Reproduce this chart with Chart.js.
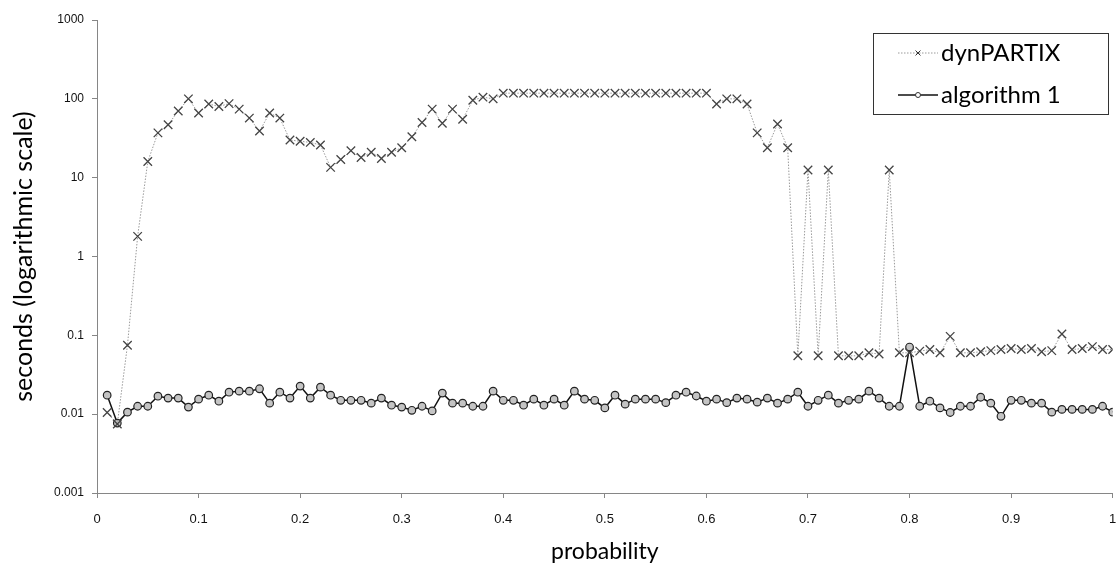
<!DOCTYPE html>
<html>
<head>
<meta charset="utf-8">
<script src="https://cdn.jsdelivr.net/npm/chart.js@4/dist/chart.umd.min.js"></script>
<style>
  html, body { margin: 0; padding: 0; background: #fff; }
  #wrap { width: 1120px; height: 565px; }
</style>
</head>
<body>
<div id="wrap"><canvas id="runtimeChart" width="1120" height="565"></canvas></div>
<script>
// probabilities on the x axis
var probability = [
  0.01,0.02,0.03,0.04,0.05,0.06,0.07,0.08,0.09,0.10,
  0.11,0.12,0.13,0.14,0.15,0.16,0.17,0.18,0.19,0.20,
  0.21,0.22,0.23,0.24,0.25,0.26,0.27,0.28,0.29,0.30,
  0.31,0.32,0.33,0.34,0.35,0.36,0.37,0.38,0.39,0.40,
  0.41,0.42,0.43,0.44,0.45,0.46,0.47,0.48,0.49,0.50,
  0.51,0.52,0.53,0.54,0.55,0.56,0.57,0.58,0.59,0.60,
  0.61,0.62,0.63,0.64,0.65,0.66,0.67,0.68,0.69,0.70,
  0.71,0.72,0.73,0.74,0.75,0.76,0.77,0.78,0.79,0.80,
  0.81,0.82,0.83,0.84,0.85,0.86,0.87,0.88,0.89,0.90,
  0.91,0.92,0.93,0.94,0.95,0.96,0.97,0.98,0.99,1.00
];

// seconds
var dynpartix = [
  0.0105,0.0075,0.075,1.8,16,37,47,70,100,66,
  86,80,87,74,57,39,66,57,30,29,
  28,26,13.5,17,22,18,21,17.5,21,24,
  33,50,74,49,74,55,96,105,100,118,
  118,118,118,118,118,118,118,118,118,118,
  118,118,118,118,118,118,118,118,118,118,
  86,100,100,86,37,24,48,24,0.055,12.5,
  0.055,12.5,0.055,0.055,0.055,0.06,0.058,12.5,0.06,0.06,
  0.063,0.066,0.06,0.097,0.06,0.06,0.062,0.064,0.066,0.068,
  0.066,0.068,0.062,0.064,0.104,0.066,0.068,0.072,0.066,0.066
];

var algorithm1 = [
  0.0174,0.0077,0.0106,0.0126,0.0126,0.0169,0.016,0.016,0.0123,0.0155,
  0.0174,0.0146,0.019,0.0196,0.0196,0.021,0.0138,0.019,0.016,0.0227,
  0.016,0.022,0.0174,0.015,0.015,0.015,0.0138,0.016,0.013,0.0123,
  0.0112,0.0126,0.011,0.0185,0.0138,0.0138,0.0126,0.0126,0.0196,0.015,
  0.015,0.013,0.0155,0.013,0.0155,0.013,0.0196,0.0155,0.015,0.012,
  0.0174,0.0134,0.0155,0.0155,0.0155,0.014,0.0174,0.019,0.017,0.0146,
  0.0155,0.014,0.016,0.0155,0.0142,0.016,0.0138,0.0155,0.019,0.0126,
  0.015,0.0174,0.0138,0.015,0.0155,0.0196,0.016,0.0126,0.0126,0.071,
  0.0126,0.0146,0.012,0.0105,0.0126,0.0126,0.0164,0.0138,0.0094,0.015,
  0.015,0.0138,0.0138,0.0106,0.0115,0.0115,0.0115,0.0115,0.0126,0.0106
];

var yTicks = [0.001, 0.01, 0.1, 1, 10, 100, 1000];
var yTickLabels = ['0.001', '0.01', '0.1', '1', '10', '100', '1000'];
var xTicks = [0, 0.1, 0.2, 0.3, 0.4, 0.5, 0.6, 0.7, 0.8, 0.9, 1];
var xTickLabels = ['0', '0.1', '0.2', '0.3', '0.4', '0.5', '0.6', '0.7', '0.8', '0.9', '1'];

var seriesNames = ['dynPARTIX', 'algorithm 1'];

function toPoints(ys) {
  return probability.map(function(p, i) { return {x: p, y: ys[i]}; });
}

var axisGray = '#868686';
var titleFont = "Lato, 'Open Sans', sans-serif";
var tickFont = "'Liberation Sans', Arial, sans-serif";

// legend drawn as a framed box with line + marker samples
var boxLegend = {
  id: 'boxLegend',
  afterDraw: function(chart) {
    var ctx = chart.ctx;
    var x0 = 873, y0 = 33, w = 235, h = 81;
    ctx.save();
    ctx.fillStyle = '#fff';
    ctx.fillRect(x0, y0, w, h);
    ctx.strokeStyle = '#333';
    ctx.lineWidth = 1;
    ctx.strokeRect(x0 + 0.5, y0 + 0.5, w, h);

    chart.data.datasets.forEach(function(ds, i) {
      var cy = y0 + 20 + i * 42;
      ctx.save();
      ctx.strokeStyle = ds.borderColor;
      ctx.lineWidth = ds.borderWidth;
      ctx.setLineDash(ds.borderDash || []);
      ctx.beginPath();
      ctx.moveTo(898, cy);
      ctx.lineTo(938, cy);
      ctx.stroke();
      ctx.restore();
      ctx.save();
      ctx.strokeStyle = '#333';
      ctx.fillStyle = '#fff';
      Chart.helpers.drawPoint(ctx, {
        pointStyle: ds.pointStyle,
        radius: i === 0 ? 3.5 : 2.5,
        borderWidth: 1
      }, 918, cy);
      ctx.restore();
      ctx.fillStyle = '#000';
      ctx.font = "24px " + titleFont;
      ctx.textBaseline = 'middle';
      ctx.textAlign = 'left';
      ctx.fillText(seriesNames[i], 941, cy);
    });
    ctx.restore();
  }
};

var chart = new Chart(document.getElementById('runtimeChart').getContext('2d'), {
  type: 'line',
  data: {
    datasets: [{
      label: seriesNames[0],
      data: toPoints(dynpartix),
      borderColor: '#9a9a9a',
      borderWidth: 1,
      borderDash: [1.5, 1.5],
      pointStyle: 'crossRot',
      pointRadius: 6,
      pointBorderColor: '#444',
      pointBorderWidth: 1.3,
      tension: 0
    }, {
      label: seriesNames[1],
      data: toPoints(algorithm1),
      borderColor: '#111',
      borderWidth: 1.5,
      pointStyle: 'circle',
      pointRadius: 3.8,
      pointBackgroundColor: '#c4c4c4',
      pointBorderColor: '#222',
      pointBorderWidth: 1.2,
      tension: 0
    }]
  },
  options: {
    responsive: false,
    animation: false,
    layout: { padding: { top: 20, right: 1, left: 0, bottom: 0 } },
    plugins: {
      legend: { display: false },
      tooltip: { enabled: false }
    },
    scales: {
      x: {
        type: 'linear',
        min: 0,
        max: 1,
        afterBuildTicks: function(scale) {
          scale.ticks = xTicks.map(function(v) { return {value: v}; });
        },
        afterFit: function(scale) {
          scale.height = 72;
          scale.paddingRight = 0;
        },
        grid: {
          display: true,
          drawOnChartArea: false,
          drawTicks: true,
          tickLength: 5,
          color: axisGray
        },
        border: { display: true, color: axisGray, width: 1 },
        ticks: {
          color: '#111',
          font: { family: tickFont, size: 13 },
          padding: 14,
          maxRotation: 0,
          autoSkip: false,
          callback: function(v, i) { return xTickLabels[i]; }
        },
        title: {
          display: true,
          text: 'probability',
          color: '#000',
          font: { family: titleFont, size: 23 },
          padding: { top: 2, bottom: 0 }
        }
      },
      y: {
        type: 'logarithmic',
        min: 0.001,
        max: 1000,
        afterBuildTicks: function(scale) {
          scale.ticks = yTicks.map(function(v) { return {value: v}; });
        },
        afterFit: function(scale) { scale.width = 97; },
        grid: {
          display: true,
          drawOnChartArea: false,
          drawTicks: true,
          tickLength: 5,
          color: axisGray
        },
        border: { display: true, color: axisGray, width: 1 },
        ticks: {
          color: '#111',
          font: { family: tickFont, size: 12 },
          padding: 8,
          autoSkip: false,
          callback: function(v, i) { return yTickLabels[i]; }
        },
        title: {
          display: true,
          text: 'seconds (logarithmic scale)',
          color: '#000',
          font: { family: titleFont, size: 25 },
          padding: { top: 9, bottom: 0 }
        }
      }
    }
  },
  plugins: [boxLegend]
});
</script>
</body>
</html>
